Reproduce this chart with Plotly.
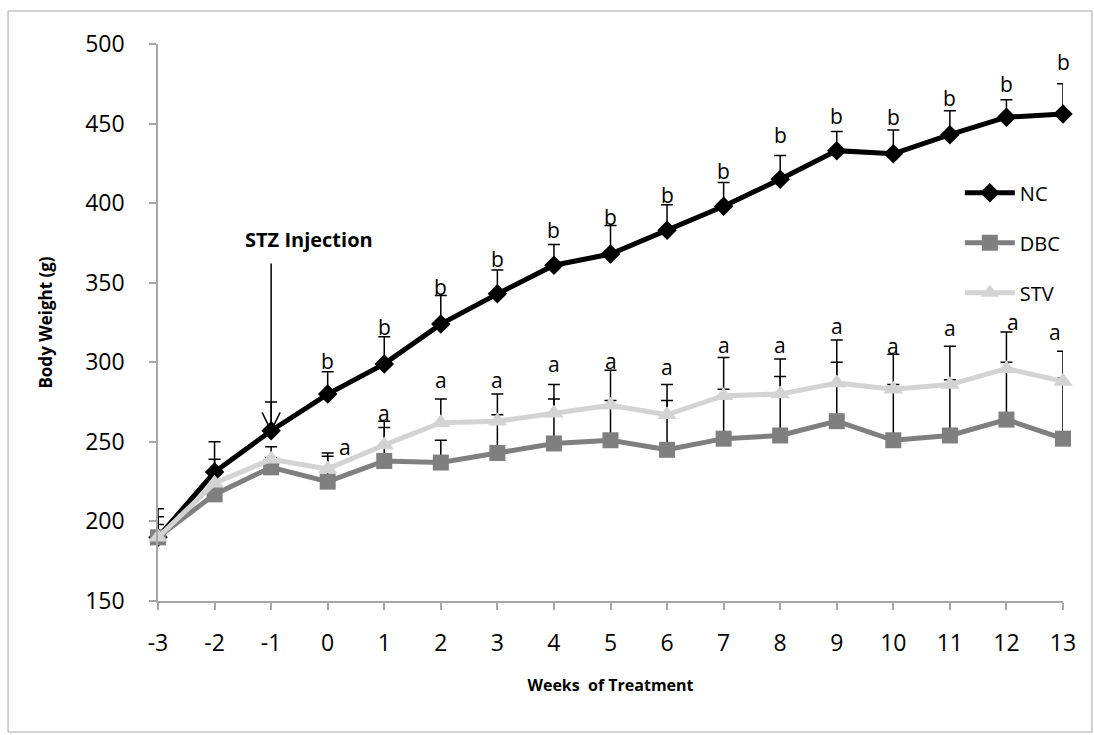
import plotly.graph_objects as go

# Weeks relative to start of treatment
weeks = [-3, -2, -1, 0, 1, 2, 3, 4, 5, 6, 7, 8, 9, 10, 11, 12, 13]

# Mean body weight (g) per group
nc_mean = [190, 231, 257, 280, 299, 324, 343, 361, 368, 383, 398, 415, 433, 431, 443, 454, 456]
dbc_mean = [190, 217, 234, 225, 238, 237, 243, 249, 251, 245, 252, 254, 263, 251, 254, 264, 252]
stv_mean = [190, 224, 239, 233, 248, 262, 263, 268, 273, 267, 279, 280, 287, 283, 286, 296, 288]

# Upper error (SD, g) per group
nc_err = [18, 19, 18, 14, 17, 18, 15, 13, 18, 16, 15, 15, 12, 15, 15, 11, 19]
dbc_err = [8, 12, 6, 16, 21, 14, 24, 28, 25, 31, 31, 37, 37, 35, 35, 36, 38]
stv_err = [13, 15, 8, 10, 15, 15, 17, 18, 22, 19, 24, 22, 27, 22, 24, 23, 19]

# Significance letters: (week, label height in g, horizontal nudge in px)
b_weeks = [0, 1, 2, 3, 4, 5, 6, 7, 8, 9, 10, 11, 12, 13]
b_pos = [301, 322, 347.5, 365, 383, 391.5, 405, 420, 443, 455, 454, 466, 475, 489]
a_weeks = [0, 1, 2, 3, 4, 5, 6, 7, 8, 9, 10, 11, 12, 13]
a_pos = [247, 268, 289, 289, 299, 301, 297, 311, 311, 323, 310, 321.5, 325.5, 319]
a_shift = [17, 0, 0, 0, 0, 0, 0, 0, 0, 0, 0, 0, 7, -8]

injection_week = -1

FONT = "Open Sans"

fig = go.Figure()

series = [
    ("NC", nc_mean, nc_err, "#000000", "diamond", 15),
    ("DBC", dbc_mean, dbc_err, "#7f7f7f", "square", 16),
    ("STV", stv_mean, stv_err, "#d3d3d3", "triangle-up", 17),
]

# Error bars first, so that lines and markers sit on top of them
for name, mean, err, color, symbol, size in series:
    fig.add_trace(go.Scatter(
        x=weeks, y=mean, mode="markers", showlegend=False, hoverinfo="skip",
        marker=dict(size=1, color="rgba(0,0,0,0)"),
        error_y=dict(type="data", array=err, arrayminus=[0] * len(err),
                     symmetric=False, color="#000000", thickness=1.5, width=6),
        cliponaxis=False,
    ))

for name, mean, err, color, symbol, size in series:
    fig.add_trace(go.Scatter(
        x=weeks, y=mean, name=name, mode="lines+markers",
        legendgroup=name,
        line=dict(color=color, width=5),
        marker=dict(symbol=symbol, size=size, color=color, line=dict(width=0)),
        cliponaxis=False,
    ))

annotations = []
for w, yv in zip(b_weeks, b_pos):
    annotations.append(dict(x=w, y=yv, xref="x", yref="y", text="b", showarrow=False,
                            font=dict(family=FONT, size=21, color="#000000")))
for w, yv, dx in zip(a_weeks, a_pos, a_shift):
    annotations.append(dict(x=w, y=yv, xref="x", yref="y", text="a", showarrow=False,
                            xshift=dx, font=dict(family=FONT, size=21, color="#000000")))

# Injection marker text
inj_idx = weeks.index(injection_week)
annotations.append(dict(x=injection_week, y=377, xref="x", yref="y", text="<b>STZ Injection</b>",
                        showarrow=False, xanchor="left", xshift=-28,
                        font=dict(family=FONT, size=20, color="#000000")))

tip_y = nc_mean[inj_idx]
shapes = [
    # Arrow shaft
    dict(type="line", xref="x", yref="y", x0=injection_week, x1=injection_week,
         y0=362, y1=tip_y, line=dict(color="#000000", width=1.5)),
    # Open arrowhead
    dict(type="path", xref="x", yref="y",
         path=f"M {injection_week - 0.16},{tip_y + 11.5} L {injection_week},{tip_y} L {injection_week + 0.16},{tip_y + 11.5}",
         line=dict(color="#000000", width=1.5)),
    # Chart border
    dict(type="rect", xref="paper", yref="paper", x0=-0.1657, x1=1.032, y0=-0.2352, y1=1.0592,
         line=dict(color="#a6a6a6", width=1), layer="below"),
]

fig.update_layout(
    width=1094, height=735,
    margin=dict(l=158, r=31, t=44, b=134),
    paper_bgcolor="white", plot_bgcolor="white",
    font=dict(family=FONT, color="#000000"),
    showlegend=True,
    legend=dict(x=0.886, y=0.768, xanchor="left", yanchor="top",
                font=dict(family=FONT, size=20), tracegroupgap=21,
                bgcolor="rgba(0,0,0,0)", itemwidth=50),
    annotations=annotations,
    shapes=shapes,
)

fig.update_xaxes(
    range=[-3, 13], tickmode="array", tickvals=weeks, ticktext=[str(w) for w in weeks],
    showline=True, linecolor="#a6a6a6", linewidth=1.5, showgrid=False, zeroline=False,
    ticks="outside", ticklen=7, tickcolor="#a6a6a6", tickwidth=1.5,
    tickfont=dict(family=FONT, size=23), ticklabelstandoff=14,
    title=dict(text="<b>Weeks\u00a0 of Treatment</b>", font=dict(family=FONT, size=16), standoff=22),
)
fig.update_yaxes(
    range=[150, 500], tickmode="linear", tick0=150, dtick=50,
    showline=True, linecolor="#a6a6a6", linewidth=1.5, showgrid=False, zeroline=False,
    ticks="outside", ticklen=7, tickcolor="#a6a6a6", tickwidth=1.5,
    tickfont=dict(family=FONT, size=23), ticklabelstandoff=20,
    title=dict(text="<b>Body Weight (g)</b>", font=dict(family=FONT, size=17), standoff=28),
)

fig.write_html("out.html")
